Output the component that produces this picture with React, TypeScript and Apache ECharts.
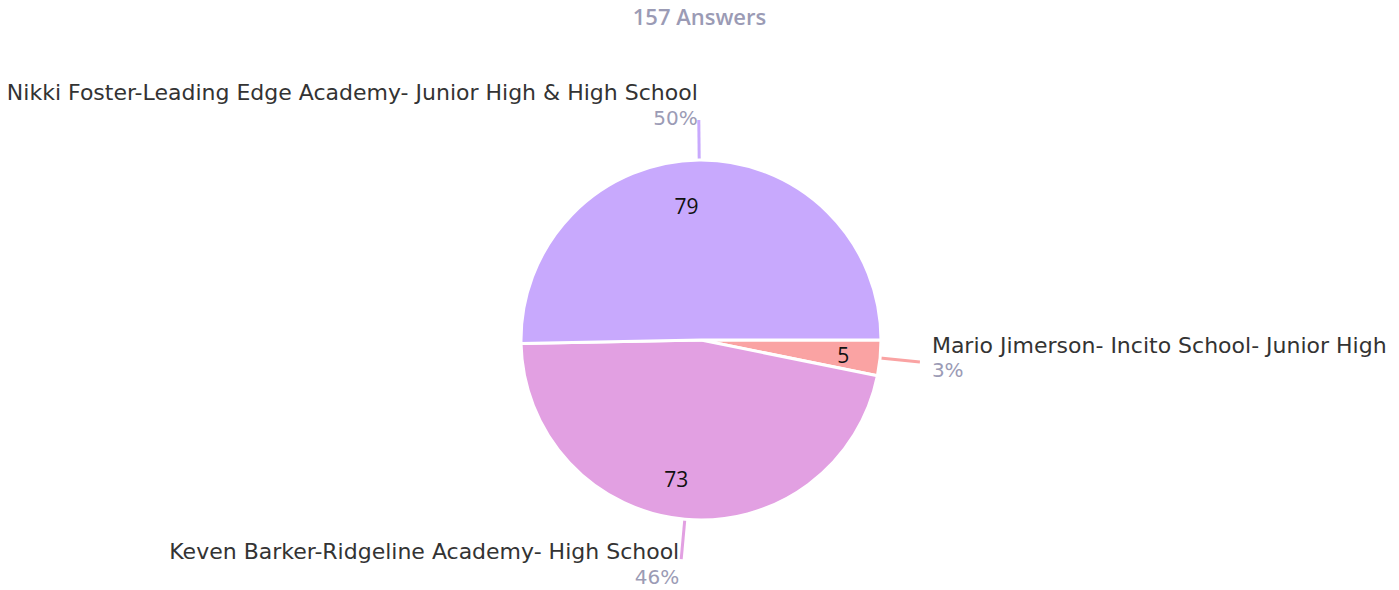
import React, { useEffect, useRef } from "react";
import * as echarts from "echarts";

const titleText = "157 Answers";
const categories = [
  "Mario Jimerson- Incito School- Junior High",
  "Keven Barker-Ridgeline Academy- High School",
  "Nikki Foster-Leading Edge Academy- Junior High & High School",
];
const values = [5, 73, 79];
const colors = ["#faa3a3", "#e2a0e2", "#c8a9fd"];

export default function App() {
  const ref = useRef<HTMLDivElement>(null);
  useEffect(() => {
    document.body.style.margin = "0";
    const chart = echarts.init(ref.current!, null, { renderer: "svg" });
    const total = values.reduce((a, b) => a + b, 0);
    const font = "'Open Sans', sans-serif";
    const nameFont = "'DejaVu Sans', sans-serif";
    const outerLabelExtras = [
      { distanceToLabelLine: 12, padding: [0, 0, 8, 0] },
      { distanceToLabelLine: 2, padding: [10, 0, 0, 0] },
      { distanceToLabelLine: 1, padding: [0, 0, 30, 0] },
    ];
    const innerOffsets = [
      [2, 1],
      [-12, -1],
      [-13, 7],
    ];
    chart.setOption({
      animation: false,
      title: {
        text: titleText,
        left: "center",
        top: 0,
        textStyle: { fontFamily: font, fontSize: 22, fontWeight: 600, color: "#9b9bb5" },
      },
      series: [
        {
          type: "pie",
          center: [701, 340],
          radius: 180,
          startAngle: 0,
          clockwise: true,
          avoidLabelOverlap: false,
          silent: true,
          itemStyle: { borderColor: "#ffffff", borderWidth: 3 },
          labelLine: { show: true, length: 40, length2: 0, smooth: false, lineStyle: { width: 3 } },
          label: {
            show: true,
            position: "outside",
            fontFamily: nameFont,
            formatter: (p: any) =>
              `{n|${p.name}}\n{p|${Math.round((p.value / total) * 100)}%}`,
            rich: {
              n: { fontFamily: nameFont, fontSize: 22, color: "#333333", lineHeight: 25 },
              p: { fontFamily: nameFont, fontSize: 20, color: "#9b9bb5", lineHeight: 25 },
            },
          },
          data: categories.map((name, i) => ({
            name,
            value: values[i],
            itemStyle: { color: colors[i] },
            label: outerLabelExtras[i],
          })),
        },
        {
          type: "pie",
          center: [701, 340],
          radius: [96, 180],
          startAngle: 0,
          clockwise: true,
          silent: true,
          avoidLabelOverlap: false,
          itemStyle: { color: "rgba(0,0,0,0)", borderWidth: 0 },
          labelLine: { show: false },
          label: {
            show: true,
            position: "inside",
            fontFamily: font,
            fontSize: 21,
            color: "#111111",
            formatter: (p: any) => `${p.value}`,
          },
          data: categories.map((name, i) => ({
            name,
            value: values[i],
            label: { offset: innerOffsets[i] },
          })),
        },
      ],
    });
    return () => chart.dispose();
  }, []);
  return <div ref={ref} style={{ width: 1399, height: 590 }} />;
}
